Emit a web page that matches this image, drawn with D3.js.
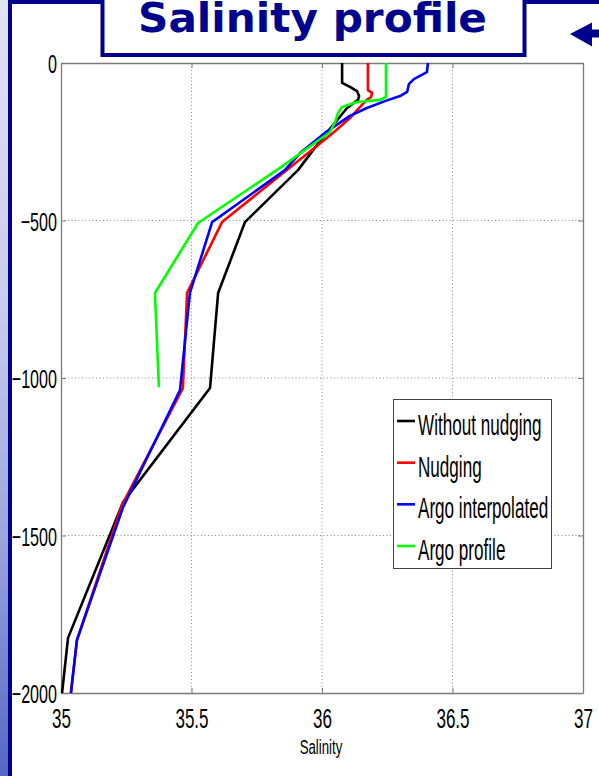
<!DOCTYPE html>
<html>
<head>
<meta charset="utf-8">
<script src="https://cdn.jsdelivr.net/npm/d3@7"></script>
<style>
  html, body { margin: 0; padding: 0; background: #ffffff; }
  svg { display: block; }
</style>
</head>
<body>
<svg id="chart" width="599" height="776"></svg>
<script>
// Salinity profiles: depth (m, negative downward) against salinity
const seriesNames  = ["Without nudging", "Nudging", "Argo interpolated", "Argo profile"];
const seriesColors = ["#000000", "#ff0000", "#0000ff", "#00ff00"];

const xTickValues = [35, 35.5, 36, 36.5, 37];
const yTickValues = [0, -500, -1000, -1500, -2000];
const xLabel = "Salinity";
const titleText = "Salinity profile";

const depthWithout = [0, -63, -76, -89, -105, -117, -143, -248, -340, -505, -730, -1032, -1394, -1825, -2000];
const salWithout   = [36.077, 36.077, 36.107, 36.134, 36.142, 36.138, 36.096, 35.992, 35.908, 35.705, 35.602, 35.571, 35.238, 35.027, 35.004];

const depthNudging = [0, -86, -95, -108, -117, -133, -175, -222, -505, -730, -1032, -1403, -1832, -2000];
const salNudging   = [36.176, 36.176, 36.192, 36.188, 36.172, 36.153, 36.107, 36.042, 35.617, 35.483, 35.467, 35.234, 35.061, 35.038];

const depthArgoInterp = [0, -29, -51, -67, -92, -105, -121, -143, -168, -222, -286, -340, -505, -730, -1038, -1410, -1832, -2000];
const salArgoInterp   = [36.406, 36.402, 36.352, 36.333, 36.326, 36.299, 36.241, 36.172, 36.107, 36.011, 35.916, 35.858, 35.579, 35.494, 35.456, 35.238, 35.061, 35.038];

const depthArgoProfile = [0, -108, -117, -124, -140, -159, -187, -219, -333, -508, -730, -1029];
const salArgoProfile   = [36.245, 36.245, 36.222, 36.134, 36.077, 36.061, 36.050, 36.031, 35.839, 35.525, 35.360, 35.375];

const series = [
  { depth: depthWithout,     sal: salWithout },
  { depth: depthNudging,     sal: salNudging },
  { depth: depthArgoInterp,  sal: salArgoInterp },
  { depth: depthArgoProfile, sal: salArgoProfile }
];

const W = 599, H = 776;
const plot = { left: 61, right: 583, top: 63, bottom: 693 };
const navy = "#00008f";
const textScale = 0.62;

const svg = d3.select("#chart");

// ---- slide backdrop ----
const defs = svg.append("defs");
const grad = defs.append("linearGradient").attr("id", "edgeGrad")
  .attr("x1", 0).attr("y1", 0).attr("x2", 0).attr("y2", 1);
[["0%", "#e2e2f4"], ["40%", "#c9cbec"], ["70%", "#9aa3de"], ["100%", "#5565c6"]]
  .forEach(([o, c]) => grad.append("stop").attr("offset", o).attr("stop-color", c));

svg.append("rect").attr("x", 0).attr("y", 0).attr("width", W).attr("height", H).attr("fill", "#ffffff");
svg.append("rect").attr("x", 0).attr("y", 0).attr("width", 9).attr("height", H).attr("fill", "url(#edgeGrad)");

// outer frame
svg.append("path")
  .attr("d", `M10,${H + 10} L10,2 L${W + 10},2`)
  .attr("fill", "none").attr("stroke", navy).attr("stroke-width", 4);

// title box
svg.append("rect")
  .attr("x", 102.5).attr("y", -10).attr("width", 422).attr("height", 65)
  .attr("fill", "#ffffff").attr("stroke", navy).attr("stroke-width", 4);
svg.append("text")
  .attr("x", 312.5).attr("y", 32)
  .attr("text-anchor", "middle")
  .attr("font-family", "'DejaVu Sans', Verdana, sans-serif")
  .attr("font-weight", "bold")
  .attr("font-size", 41)
  .attr("textLength", 349).attr("lengthAdjust", "spacingAndGlyphs")
  .attr("fill", navy)
  .text(titleText);

// navigation arrow
svg.append("path")
  .attr("d", "M570,34 L592,22.5 L592,29.5 L600,29.5 L600,37.5 L592,37.5 L592,46.5 Z")
  .attr("fill", navy);

// ---- scales ----
const x = d3.scaleLinear().domain([35, 37]).range([plot.left, plot.right]);
const y = d3.scaleLinear().domain([0, -2000]).range([plot.top, plot.bottom]);

const g = svg.append("g");

// grid
const gridColor = "#8c8c8c";
g.selectAll(".vgrid").data(xTickValues.slice(1, -1)).join("line")
  .attr("x1", d => x(d)).attr("x2", d => x(d))
  .attr("y1", plot.top).attr("y2", plot.bottom)
  .attr("stroke", gridColor).attr("stroke-width", 1).attr("stroke-dasharray", "1,2.5");
g.selectAll(".hgrid").data(yTickValues.slice(1, -1)).join("line")
  .attr("y1", d => y(d)).attr("y2", d => y(d))
  .attr("x1", plot.left).attr("x2", plot.right)
  .attr("stroke", gridColor).attr("stroke-width", 1).attr("stroke-dasharray", "1,2.5");

// axes
const axisColor = "#7a7a7a";
function styleAxis(sel) {
  sel.select(".domain").attr("stroke", axisColor).attr("stroke-width", 1.3);
  sel.selectAll(".tick line").attr("stroke", axisColor).attr("stroke-width", 1);
}
const labelFont = "'Liberation Sans', Arial, Helvetica, sans-serif";

const yAxis = g.append("g").attr("transform", `translate(${plot.left},0)`)
  .call(d3.axisLeft(y).tickValues(yTickValues).tickSize(-5).tickSizeOuter(0).tickPadding(4).tickFormat(d3.format("d")));
styleAxis(yAxis);
yAxis.selectAll(".tick text")
  .attr("font-family", labelFont).attr("font-size", 26).attr("fill", "#000")
  .attr("x", -4 / textScale).attr("dy", 9.5)
  .attr("transform", `scale(${textScale},1)`);

const xAxis = g.append("g").attr("transform", `translate(0,${plot.bottom})`)
  .call(d3.axisBottom(x).tickValues(xTickValues).tickSize(-5).tickSizeOuter(0).tickPadding(0).tickFormat(d => String(d)));
styleAxis(xAxis);
xAxis.selectAll(".tick text")
  .attr("font-family", labelFont).attr("font-size", 27.5).attr("fill", "#000")
  .attr("y", 35).attr("dy", 0)
  .attr("transform", `scale(${textScale},1)`)
  .each(function () {
    const t = d3.select(this.parentNode).attr("transform");
    const tx = +/translate\(([-\d.]+)/.exec(t)[1];
    d3.select(this.parentNode).attr("transform", `translate(${tx},0)`);
    d3.select(this).attr("x", 0);
  });
// keep text centered on ticks after horizontal squeeze
xAxis.selectAll(".tick").each(function () {
  const t = d3.select(this).attr("transform");
  const tx = +/translate\(([-\d.]+)/.exec(t)[1];
  d3.select(this).select("text").attr("transform", `scale(${textScale},1)`).attr("x", 0);
  d3.select(this).attr("transform", `translate(${tx},0)`);
});

const topAxis = g.append("g").attr("transform", `translate(0,${plot.top})`)
  .call(d3.axisTop(x).tickValues(xTickValues).tickSize(-5).tickSizeOuter(0).tickFormat(""));
styleAxis(topAxis);
const rightAxis = g.append("g").attr("transform", `translate(${plot.right},0)`)
  .call(d3.axisRight(y).tickValues(yTickValues).tickSize(-5).tickSizeOuter(0).tickFormat(""));
styleAxis(rightAxis);

// axis title
g.append("text")
  .attr("transform", `translate(${(plot.left + plot.right) / 2 - 1},754) scale(0.68,1)`)
  .attr("text-anchor", "middle")
  .attr("font-family", labelFont).attr("font-size", 19.5).attr("fill", "#000")
  .text(xLabel);

// profile lines
const line = d3.line().x(d => x(d[0])).y(d => y(d[1]));
g.selectAll(".profile").data(series).join("path")
  .attr("class", "profile")
  .attr("d", s => line(d3.zip(s.sal, s.depth)))
  .attr("fill", "none")
  .attr("stroke", (s, i) => seriesColors[i])
  .attr("stroke-width", 2.6)
  .attr("stroke-linejoin", "round");

// legend
const legend = g.append("g");
legend.append("rect")
  .attr("x", 393.5).attr("y", 399.5).attr("width", 158).attr("height", 169)
  .attr("fill", "#ffffff").attr("stroke", "#444").attr("stroke-width", 1);
const rowY = d3.scaleLinear().domain([0, 3]).range([421, 546]);
seriesNames.forEach((name, i) => {
  legend.append("line")
    .attr("x1", 397).attr("x2", 415)
    .attr("y1", rowY(i)).attr("y2", rowY(i))
    .attr("stroke", seriesColors[i]).attr("stroke-width", 2.6);
  legend.append("text")
    .attr("transform", `translate(418,${rowY(i) + 14}) scale(0.57,1)`)
    .attr("font-family", labelFont).attr("font-size", 30).attr("fill", "#000")
    .text(name);
});
</script>
</body>
</html>
